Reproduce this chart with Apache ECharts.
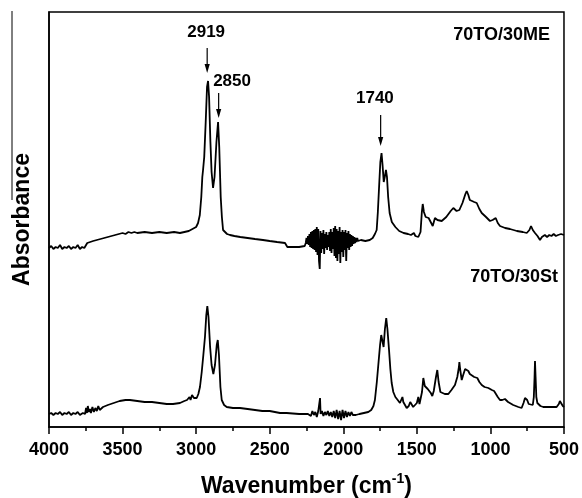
<!DOCTYPE html>
<html><head><meta charset="utf-8">
<script src="https://cdn.jsdelivr.net/npm/echarts@6/dist/echarts.min.js"></script>
<style>html,body{margin:0;padding:0;background:#fff}#c{width:582px;height:498px}</style>
</head><body><div id="c"></div>
<script>
// ---------- DATA ----------
const seriesNames = ['70TO/30ME', '70TO/30St'];
const xTickValues = [4000, 3500, 3000, 2500, 2000, 1500, 1000, 500];
// [wavenumber (cm-1), absorbance (arbitrary offset units)]
const spectrumME = [
[4000,179],[3985,181],[3970,178],[3955,180],[3940,179],[3925,182],[3910,178],[3895,180],[3880,179],[3865,181],
[3850,178],[3835,180],[3820,179],[3805,182],[3790,178],[3775,180],[3760,179],[3750,180],[3740,184],[3700,186],
[3650,188],[3600,190],[3550,192],[3500,194],[3480,193],[3460,195],[3440,194],[3420,195],[3400,194],[3350,195],
[3300,194],[3250,195],[3200,194],[3150,195],[3110,194],[3050,196],[3000,200],[2987,204],[2975,212],[2965,230],
[2958,250],[2953,257],[2945,270],[2935,305],[2926,340],[2919,346],[2912,330],[2903,285],[2895,255],[2885,239],
[2875,250],[2862,285],[2851,305],[2843,280],[2833,230],[2825,210],[2817,197],[2790,193],[2770,192],[2740,191],
[2700,190],[2650,189],[2600,188],[2546,187],[2500,186],[2450,185],[2396,184],[2385,183],[2380,180],[2340,180],
[2300,180],[2262,181],
[2255,184],[2250,189],[2245,183],[2240,191],[2235,182],[2230,193],[2225,180],[2220,195],[2215,179],[2210,196],
[2205,178],[2200,197],[2195,177],[2190,198],[2185,175],[2180,200],[2175,172],[2170,198],[2165,166],[2160,158],
[2155,196],[2150,174],[2145,194],[2140,178],[2135,197],[2130,173],[2125,193],[2120,179],[2115,195],[2110,177],
[2105,192],[2100,180],[2095,195],[2090,176],[2085,198],[2080,174],[2075,195],[2070,178],[2065,199],[2060,171],
[2055,201],[2050,169],[2045,198],[2040,166],[2035,196],[2030,173],[2025,200],[2020,164],[2015,195],[2010,175],
[2005,197],[2000,170],[1995,195],[1990,177],[1985,197],[1980,166],[1975,194],[1970,179],[1965,196],[1960,177],
[1955,193],[1950,180],[1945,192],[1940,181],[1935,191],[1930,183],[1925,190],[1920,184],[1915,189],[1910,185],
[1905,189],[1900,186],[1895,188],[1890,186],
[1880,187],[1850,186],[1820,187],[1800,189],[1785,193],[1773,197],[1765,215],[1755,245],[1748,265],[1740,274],
[1733,262],[1725,245],[1718,250],[1710,257],[1703,250],[1695,230],[1685,214],[1670,205],[1646,200],[1620,196],
[1590,194],[1560,193],[1540,192],[1520,194],[1510,191],[1500,192],[1490,190],[1475,195],[1466,215],[1460,223],
[1452,215],[1440,210],[1433,212],[1420,209],[1411,207],[1392,201],[1377,209],[1360,207],[1331,206],[1300,210],
[1270,216],[1252,219],[1230,216],[1211,217],[1190,224],[1170,233],[1161,236],[1150,232],[1140,227],[1127,225],
[1110,225],[1093,224],[1075,218],[1059,214],[1030,210],[1003,206],[985,207],[964,209],[950,204],[935,201],
[900,199],[867,198],[820,196],[780,195],[753,194],[735,197],[724,201],[712,197],[697,194],[680,191],
[663,187],[650,190],[630,192],[615,190],[600,192],[585,191],[570,193],[555,191],[540,192],[520,193],
[507,192],[500,192]
];
const spectrumSt = [
[4000,13],[3985,14],[3970,12],[3955,14],[3940,13],[3925,15],[3910,12],[3895,14],[3880,13],[3865,15],
[3850,12],[3835,14],[3820,13],[3805,15],[3790,12],[3770,14],[3755,13],[3748,19],[3742,14],[3736,21],
[3730,15],[3722,18],[3715,14],[3705,20],[3695,15],[3685,19],[3675,16],[3665,21],[3655,17],[3645,19],
[3633,20],[3600,22],[3560,24],[3520,26],[3480,27],[3450,27],[3400,26],[3350,25],[3300,25],[3250,24],
[3200,23],[3157,23],[3110,24],[3080,26],[3062,27],[3045,30],[3038,27],[3028,32],[3015,29],[2996,29],
[2985,33],[2974,40],[2962,55],[2951,72],[2940,90],[2931,112],[2924,121],[2916,110],[2905,80],[2895,62],
[2883,53],[2872,62],[2860,82],[2853,87],[2845,72],[2835,40],[2826,27],[2810,22],[2792,20],[2750,19],
[2702,19],[2650,18],[2600,17],[2550,16],[2500,16],[2430,14],[2385,14],[2380,13],[2300,13],[2240,13],
[2230,15],[2220,11],[2210,16],[2200,12],[2190,15],[2180,10],[2170,16],[2162,14],[2158,29],[2154,13],
[2145,16],[2135,11],[2125,15],[2115,12],[2105,16],[2095,11],[2085,15],[2075,10],[2065,16],[2055,9],
[2045,17],[2035,8],[2025,16],[2015,7],[2005,17],[1995,9],[1985,16],[1975,10],[1965,15],[1955,11],
[1945,15],[1935,12],[1925,14],[1915,12],[1905,14],[1890,13],
[1860,14],[1830,15],[1810,17],[1795,21],[1785,27],[1772,45],[1759,67],[1750,82],[1742,92],[1734,86],
[1726,80],[1717,98],[1708,109],[1700,98],[1689,77],[1680,58],[1671,44],[1660,35],[1646,30],[1630,27],
[1615,24],[1605,26],[1598,30],[1592,25],[1583,23],[1569,19],[1555,21],[1545,25],[1535,24],[1525,20],
[1513,19],[1500,24],[1490,30],[1482,23],[1474,22],[1465,35],[1456,49],[1446,41],[1438,39],[1426,38],
[1415,37],[1405,34],[1395,31],[1385,36],[1370,50],[1361,57],[1352,45],[1340,35],[1331,33],[1310,33],
[1286,33],[1265,37],[1241,42],[1225,50],[1214,60],[1211,65],[1206,58],[1195,47],[1185,52],[1172,58],
[1161,59],[1150,56],[1140,53],[1127,52],[1110,50],[1089,49],[1075,45],[1059,42],[1040,40],[1014,39],
[990,37],[975,36],[962,34],[950,30],[935,27],[920,27],[901,28],[880,25],[845,22],[810,20],
[788,19],[775,24],[765,29],[758,31],[750,27],[740,23],[731,22],[712,22],[705,30],[700,50],
[697,66],[693,50],[688,30],[681,24],[660,21],[641,20],[600,20],[570,20],[550,20],[535,23],
[528,26],[522,28],[515,24],[508,21],[500,20]
];
const peakLabels = ['2919', '2850', '1740'];
const peakWavenumbers = [2925, 2847, 1746];
const xAxisTitle = ['Wavenumber (cm', '-1', ')'];

// ---------- CHART ----------
const FONT = '"Liberation Sans", Arial, sans-serif';
const chart = echarts.init(document.getElementById('c'), null, {renderer: 'canvas'});
chart.setOption({
  animation: false,
  backgroundColor: '#fff',
  grid: {left: 49, right: 18, top: 12, bottom: 71, show: true, borderColor: '#000', borderWidth: 1.5},
  xAxis: {
    type: 'value', min: 500, max: 4000, interval: 500, inverse: true,
    axisLine: {show: true, lineStyle: {color: '#000', width: 1.5}},
    axisTick: {show: true, length: 7, lineStyle: {color: '#000', width: 1.5}},
    minorTick: {show: true, splitNumber: 2, length: 4, lineStyle: {color: '#000', width: 1.5}},
    splitLine: {show: false}, minorSplitLine: {show: false},
    axisLabel: {color: '#000', fontSize: 18, fontWeight: 'bold', fontFamily: FONT, margin: 14,
      showMinLabel: true, showMaxLabel: true,
      formatter: v => xTickValues.includes(v) ? String(v) : ''}
  },
  yAxis: {
    type: 'value', min: 0, max: 415,
    axisLine: {show: true, lineStyle: {color: '#000', width: 1.5}},
    axisTick: {show: false}, axisLabel: {show: false}, splitLine: {show: false},
    name: 'Absorbance', nameLocation: 'middle', nameGap: 15,
    nameTextStyle: {color: '#000', fontSize: 23, fontWeight: 'bold', fontFamily: FONT}
  },
  series: [
    {name: seriesNames[0], type: 'line', data: spectrumME, showSymbol: false, silent: true,
     lineStyle: {color: '#000', width: 1.8}},
    {name: seriesNames[1], type: 'line', data: spectrumSt, showSymbol: false, silent: true,
     lineStyle: {color: '#000', width: 1.8}}
  ]
});

// ---------- ANNOTATIONS (placed through the chart's own scales) ----------
function px(wn, v) { return chart.convertToPixel({gridIndex: 0}, [wn, v]); }
const arrowSpans = [[379, 354], [334, 309], [312, 281]];   // shaft top/bottom in y units
const labelOffsets = [[2932, 395], [2756, 346], [1785, 329]];
const g = [];
peakWavenumbers.forEach((wn, i) => {
  const a = px(wn, arrowSpans[i][0]);
  const b = px(wn, arrowSpans[i][1]);
  g.push({type: 'line', shape: {x1: a[0], y1: a[1], x2: b[0], y2: b[1] - 6}, style: {stroke: '#000', lineWidth: 1.2}});
  g.push({type: 'polygon', shape: {points: [[b[0] - 2.6, b[1] - 9], [b[0] + 2.6, b[1] - 9], [b[0], b[1]]]}, style: {fill: '#000'}});
  const t = px(labelOffsets[i][0], labelOffsets[i][1]);
  g.push({type: 'text', x: t[0], y: t[1], style: {text: peakLabels[i], fill: '#000', font: 'bold 17px ' + FONT, align: 'center', verticalAlign: 'middle'}});
});
const nameAnchors = [[595, 392], [541, 150]];
seriesNames.forEach((n, i) => {
  const t = px(nameAnchors[i][0], nameAnchors[i][1]);
  g.push({type: 'text', x: t[0], y: t[1], style: {text: n, fill: '#000', font: 'bold 18px ' + FONT, align: 'right', verticalAlign: 'middle'}});
});
// x-axis title with superscript, centred under the axis
const mid = px(2250, 0);
g.push({type: 'text', x: mid[0], y: mid[1] + 58, style: {
  text: '{a|' + xAxisTitle[0] + '}{s|' + xAxisTitle[1] + '}{a|' + xAxisTitle[2] + '}',
  align: 'center', verticalAlign: 'middle',
  rich: {
    a: {fill: '#000', font: 'bold 23px ' + FONT, lineHeight: 26, verticalAlign: 'bottom'},
    s: {fill: '#000', font: 'bold 14px ' + FONT, lineHeight: 14, verticalAlign: 'top'}
  }}});
// thin rule beside the y-axis title, as in the original figure
g.push({type: 'line', shape: {x1: 12, y1: 11, x2: 12, y2: 200}, style: {stroke: '#000', lineWidth: 1}});
chart.setOption({graphic: g});
</script>
</body></html>
